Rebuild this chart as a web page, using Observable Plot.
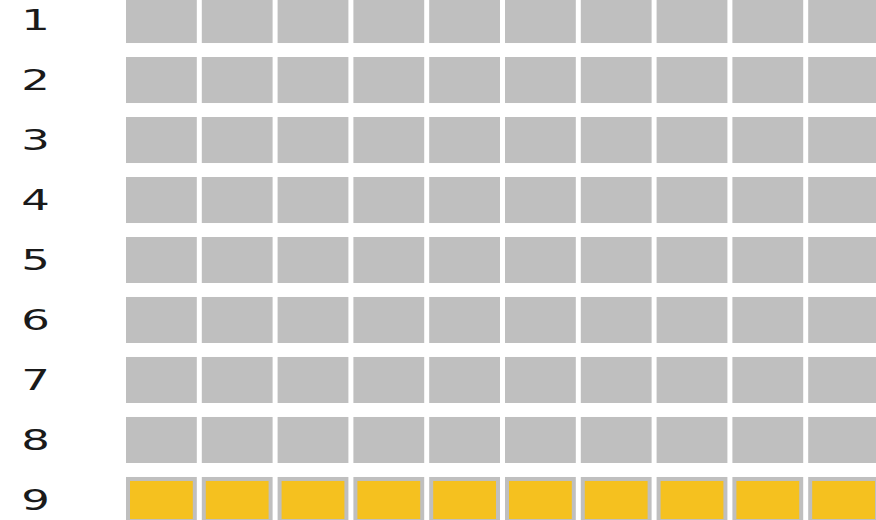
<!DOCTYPE html>
<html>
<head>
<meta charset="utf-8">
<script src="https://cdn.jsdelivr.net/npm/d3@7"></script>
<script src="https://cdn.jsdelivr.net/npm/@observablehq/plot@0.6"></script>
<style>
  html, body { margin: 0; padding: 0; background: #fff; }
  #chart { width: 876px; height: 520px; overflow: hidden; }
  #chart svg { overflow: hidden; }
</style>
</head>
<body>
<div id="chart"></div>
<script>
// Row labels (categories) and column slots
const rows = [1, 2, 3, 4, 5, 6, 7, 8, 9];
const columns = [1, 2, 3, 4, 5, 6, 7, 8, 9, 10];
// Highlighted row
const highlightRows = [9];

const cells = [];
for (const r of rows) for (const c of columns) cells.push({row: r, col: c, hi: highlightRows.includes(r)});

const plot = Plot.plot({
  width: 876,
  height: 520,
  marginLeft: 126,
  marginRight: 0,
  marginTop: 0,
  marginBottom: 0,
  style: {background: "#fff"},
  x: {domain: columns, type: "band", range: [126, 879], round: false, paddingInner: 0.066, paddingOuter: 0, axis: null},
  y: {domain: rows, type: "band", range: [-3, 523], round: false, paddingInner: 0.233, paddingOuter: 0, axis: null},
  marks: [
    Plot.cell(cells, {x: "col", y: "row", fill: "#bfbfbf"}),
    Plot.cell(cells.filter(d => d.hi), {x: "col", y: "row", fill: "#f5c11f", inset: 4}),
    Plot.text(rows, {
      y: d => d,
      text: d => String(d),
      frameAnchor: "left",
      dx: -91,
      textAnchor: "middle",
      fontSize: 30,
      fontFamily: "DejaVu Sans",
      fill: "#1a1a1a"
    })
  ]
});

d3.select(plot).selectAll("g[aria-label=text] text").attr("transform", function () {
  return this.getAttribute("transform") + " scale(1.5,0.95)";
});

document.getElementById("chart").appendChild(plot);
</script>
</body>
</html>
